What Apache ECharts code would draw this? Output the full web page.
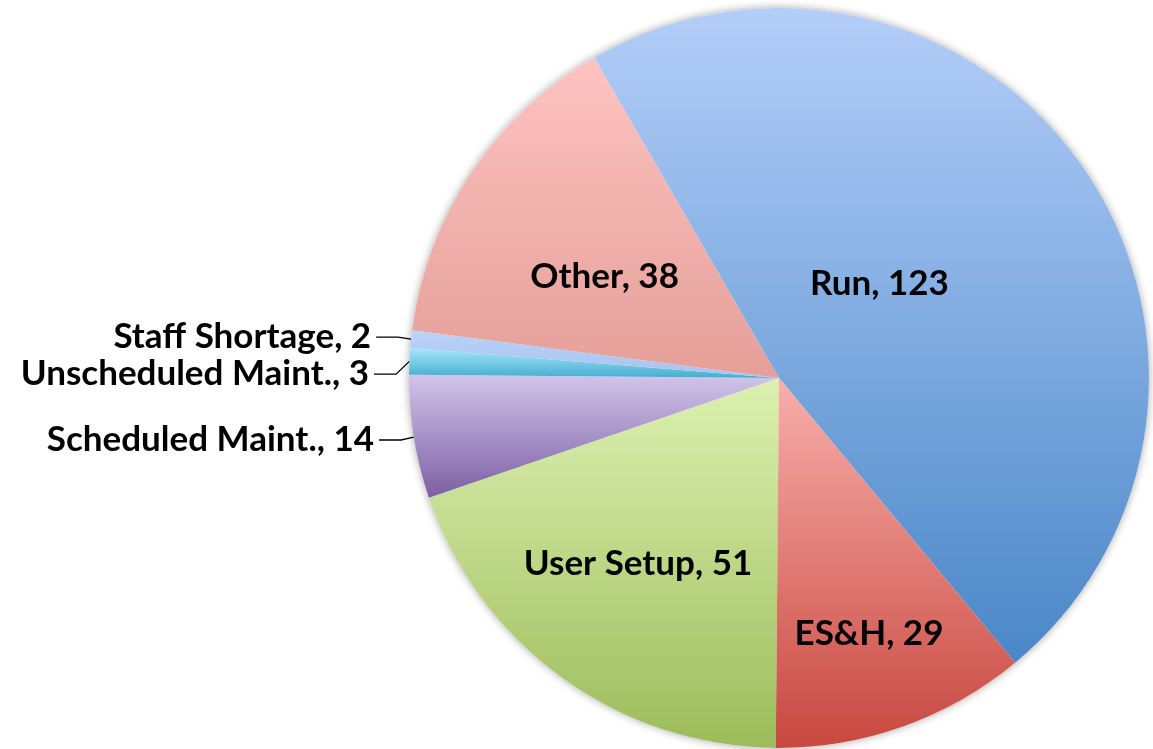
<!DOCTYPE html>
<html>
<head>
<meta charset="utf-8">
<script src="https://cdn.jsdelivr.net/npm/echarts@6/dist/echarts.min.js"></script>
<style>
  html, body { margin: 0; padding: 0; background: #ffffff; }
  #chart { width: 1153px; height: 749px; }
</style>
</head>
<body>
<div id="chart"></div>
<script>
// ---- data (clockwise from 6 o'clock) ----
const categories = ['User Setup', 'Scheduled Maint.', 'Unscheduled Maint.', 'Staff Shortage', 'Other', 'Run', 'ES&H'];
const values = [51, 14, 3, 2, 38, 123, 29];

// ---- styles ----
const gradients = [
  ['#dcf1b1', '#9cbc5a'],   // User Setup
  ['#d2c4ea', '#7c5fa2'],   // Scheduled Maint.
  ['#a6e8fa', '#44adcd'],   // Unscheduled Maint.
  ['#bcd3fa', '#a6c2ef'],   // Staff Shortage
  ['#fdc3c0', '#e59f99'],   // Other
  ['#b3cef9', '#4a87c7'],   // Run
  ['#f9aeaa', '#c7483f']    // ES&H
];
const insideLabel = [true, false, false, false, true, true, true];
const labelShift = [[-31, 33], [0, 0], [0, 0], [0, 0], [-18, 3], [-54, 13], [27, 79]];

const total = values.reduce((a, b) => a + b, 0);

const data = categories.map((name, i) => ({
  name: name,
  value: values[i],
  itemStyle: {
    color: {
      type: 'linear', x: 0, y: 0, x2: 0, y2: 1,
      colorStops: [
        { offset: 0, color: gradients[i][0] },
        { offset: 1, color: gradients[i][1] }
      ]
    }
  },
  label: insideLabel[i] ? { position: 'inside' } : { position: 'outside' },
  labelLine: { show: !insideLabel[i] }
}));

const chart = echarts.init(document.getElementById('chart'), null, { renderer: 'canvas' });
chart.setOption({
  animation: false,
  backgroundColor: '#ffffff',
  series: [
    {
      type: 'pie',
      silent: true,
      center: [779, 378],
      radius: 370,
      z: 1,
      label: { show: false },
      labelLine: { show: false },
      itemStyle: { color: '#ffffff', shadowBlur: 8, shadowColor: 'rgba(0,0,0,0.35)' },
      data: [{ name: 'total', value: total }]
    },
    {
      type: 'pie',
      z: 2,
      center: [779, 378],
      radius: 370,
      startAngle: -90.5,
      clockwise: true,
      avoidLabelOverlap: true,
      itemStyle: { borderWidth: 0 },
      label: {
        show: true,
        formatter: '{b}, {c}',
        fontFamily: 'Lato',
        fontWeight: 'bold',
        fontSize: 35,
        color: '#000000'
      },
      labelLine: {
        show: true,
        length: 18,
        length2: 22,
        smooth: false,
        lineStyle: { color: '#000000', width: 1.3 }
      },
      labelLayout: function (params) {
        const s = labelShift[params.dataIndex];
        if (insideLabel[params.dataIndex]) {
          return { dx: s[0], dy: s[1] };
        }
        return {};
      },
      data: data
    }
  ]
});
</script>
</body>
</html>
